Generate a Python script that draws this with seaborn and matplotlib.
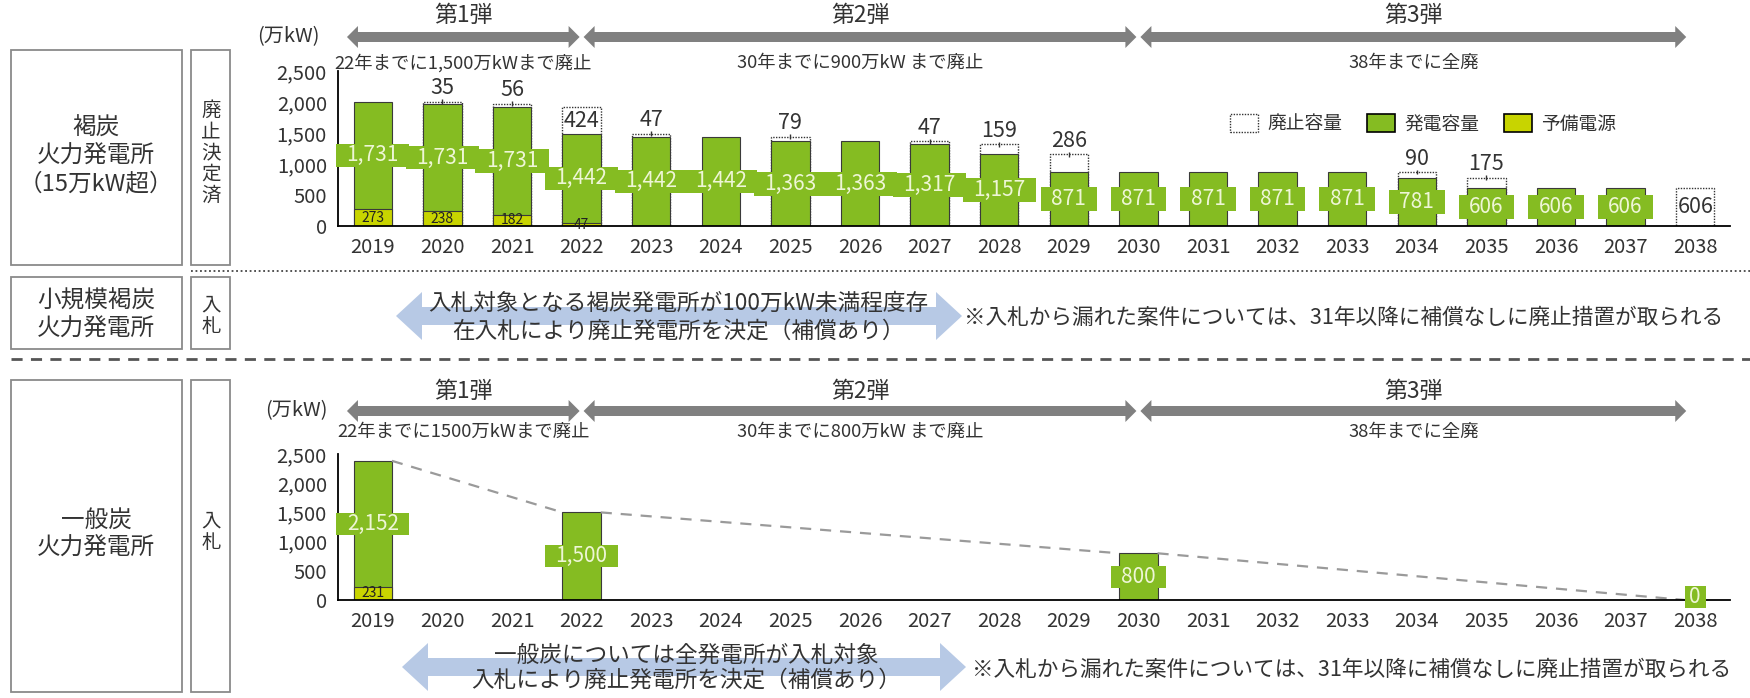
import numpy as np
import pandas as pd
import matplotlib
matplotlib.use("Agg")
import matplotlib.pyplot as plt
import seaborn as sns
from matplotlib.patches import Rectangle, Polygon, Patch
from matplotlib.lines import Line2D
from matplotlib.ticker import FuncFormatter, FixedLocator

# ---------------- data ----------------
years = [str(y) for y in range(2019, 2039)]

lignite_capacity = [1731, 1731, 1731, 1442, 1442, 1442, 1363, 1363, 1317, 1157,
                    871, 871, 871, 871, 871, 781, 606, 606, 606, 0]
lignite_reserve = [273, 238, 182, 47, 0, 0, 0, 0, 0, 0,
                   0, 0, 0, 0, 0, 0, 0, 0, 0, 0]
lignite_retired = [0, 35, 56, 424, 47, 0, 79, 0, 47, 159,
                   286, 0, 0, 0, 0, 90, 175, 0, 0, 606]

nan = np.nan
coal_capacity = [2152, nan, nan, 1500, nan, nan, nan, nan, nan, nan,
                 nan, 800, nan, nan, nan, nan, nan, nan, nan, 0]
coal_reserve = [231, nan, nan, 0, nan, nan, nan, nan, nan, nan,
                nan, 0, nan, nan, nan, nan, nan, nan, nan, 0]

phase_titles = ["第1弾", "第2弾", "第3弾"]
phase_years = [("2019", "2022"), ("2022", "2030"), ("2030", "2038")]
lignite_targets = ["22年までに1,500万kWまで廃止", "30年までに900万kW まで廃止", "38年までに全廃"]
coal_targets = ["22年までに1500万kWまで廃止", "30年までに800万kW まで廃止", "38年までに全廃"]
legend_labels = ["廃止容量", "発電容量", "予備電源"]
yticks = [0, 500, 1000, 1500, 2000, 2500]

# ---------------- style ----------------
W, H, DPI = 1750, 698, 100
GREEN = "#85BC22"
YELLOW = "#C8D400"
EDGE = "#3a3a3a"
LABEL_TXT = "#EEF6D6"
GRAY_ARROW = "#808080"
BLUE_ARROW = "#B7C9E5"
TXT = "#333333"

sns.set_style("white")
plt.rcParams["font.family"] = ["Noto Sans CJK JP", "DejaVu Sans"]

fig = plt.figure(figsize=(W / DPI, H / DPI), dpi=DPI)

ax_top = fig.add_axes([338 / W, 1 - 226 / H, 1392 / W, 155 / H])
ax_bot = fig.add_axes([338 / W, 1 - 600 / H, 1392 / W, 146 / H])


def T(x, y, s, **kw):
    kw.setdefault("ha", "center")
    kw.setdefault("va", "center")
    kw.setdefault("color", TXT)
    return fig.text(x / W, 1 - y / H, s, **kw)


def poly_px(verts, color, z=5):
    v = [(x / W, 1 - y / H) for x, y in verts]
    fig.add_artist(Polygon(v, closed=True, transform=fig.transFigure,
                           facecolor=color, edgecolor="none", zorder=z))


def double_arrow(x0, x1, y, body, head_h, head_l, color):
    verts = [(x0, y), (x0 + head_l, y - head_h / 2), (x0 + head_l, y - body / 2),
             (x1 - head_l, y - body / 2), (x1 - head_l, y - head_h / 2), (x1, y),
             (x1 - head_l, y + head_h / 2), (x1 - head_l, y + body / 2),
             (x0 + head_l, y + body / 2), (x0 + head_l, y + head_h / 2)]
    poly_px(verts, color)


def style_axis(ax):
    ax.set_ylim(0, 2500)
    ax.set_xlim(-0.5, len(years) - 0.5)
    ax.set_xlabel("")
    ax.set_ylabel("")
    for s in ["top", "right"]:
        ax.spines[s].set_visible(False)
    for s in ["left", "bottom"]:
        ax.spines[s].set_color("black")
        ax.spines[s].set_linewidth(1.3)
    ax.yaxis.set_major_locator(FixedLocator(yticks))
    ax.yaxis.set_major_formatter(FuncFormatter(lambda v, p: f"{int(v):,}"))
    ax.tick_params(axis="y", direction="out", length=5, width=1, colors="black",
                   labelcolor=TXT, labelsize=14.5, pad=3)
    ax.set_xticks(range(len(years)))
    ax.set_xticklabels(years)
    ax.tick_params(axis="x", which="major", length=0, labelsize=14.5, labelcolor=TXT, pad=8)
    ax.set_xticks(np.arange(-0.5, len(years)), minor=True)
    ax.tick_params(axis="x", which="minor", direction="out", length=6, width=1, colors="black")
    ax.patch.set_alpha(0)


BAR_W = 0.55
BOX_H = 380


def value_box(ax, i, yc, value):
    s = f"{int(value):,}"
    nd = sum(ch.isdigit() for ch in s)
    w = 0.25 * nd + 0.05
    ax.add_patch(Rectangle((i - w / 2, yc - BOX_H / 2), w, BOX_H, facecolor=GREEN,
                           edgecolor="none", zorder=4, clip_on=False))
    ax.text(i, yc, s, ha="center", va="center", color=LABEL_TXT, fontsize=15,
            zorder=5)


# ---------------- top panel: lignite ----------------
dft = pd.DataFrame({"year": years, "cap": lignite_capacity, "res": lignite_reserve,
                    "ret": lignite_retired})
dft["stack"] = dft["cap"] + dft["res"]
dft["outer"] = np.where(dft["ret"] > 0, dft["stack"] + dft["ret"], nan)
dft["stack_plot"] = np.where(dft["stack"] > 0, dft["stack"], nan)
dft["res_plot"] = np.where(dft["res"] > 0, dft["res"], nan)

sns.barplot(data=dft, x="year", y="outer", order=years, fill=False, color="#333333",
            linestyle=(0, (1, 1)), linewidth=1.0, width=BAR_W, errorbar=None, ax=ax_top)
sns.barplot(data=dft, x="year", y="stack_plot", order=years, color=GREEN, saturation=1,
            edgecolor=EDGE, linewidth=0.8, width=BAR_W, errorbar=None, ax=ax_top)
sns.barplot(data=dft, x="year", y="res_plot", order=years, color=YELLOW, saturation=1,
            edgecolor=EDGE, linewidth=0.8, width=BAR_W, errorbar=None, ax=ax_top)
style_axis(ax_top)

for i, r in dft.iterrows():
    if r["cap"] > 0:
        value_box(ax_top, i, r["res"] + r["cap"] / 2, r["cap"])
    if r["res"] > 0:
        ax_top.text(i, r["res"] / 2, f"{int(r['res'])}", ha="center", va="center",
                    fontsize=10, color="#222222", zorder=5)
    if r["ret"] > 0:
        top = r["stack"] + r["ret"]
        if r["cap"] == 0:
            ax_top.text(i, r["ret"] / 2, f"{int(r['ret'])}", ha="center", va="center",
                        fontsize=15.5, color=TXT, zorder=5)
        elif r["ret"] > 300:
            ax_top.text(i, r["stack"] + 20, f"{int(r['ret'])}", ha="center", va="bottom",
                        fontsize=15.5, color=TXT, zorder=5)
        else:
            ax_top.vlines(i, top - 40, top + 40, color="#333333", lw=1, zorder=5)
            ax_top.text(i, top + 40, f"{int(r['ret'])}", ha="center", va="bottom",
                        fontsize=15.5, color=TXT, zorder=5)

# ---------------- bottom panel: general coal ----------------
dfb = pd.DataFrame({"year": years, "cap": coal_capacity, "res": coal_reserve})
dfb["stack"] = dfb["cap"] + dfb["res"]
dfb["stack_plot"] = np.where(dfb["stack"] > 0, dfb["stack"], nan)
dfb["res_plot"] = np.where(dfb["res"] > 0, dfb["res"], nan)

sns.barplot(data=dfb, x="year", y="stack_plot", order=years, color=GREEN, saturation=1,
            edgecolor=EDGE, linewidth=0.8, width=BAR_W, errorbar=None, ax=ax_bot)
sns.barplot(data=dfb, x="year", y="res_plot", order=years, color=YELLOW, saturation=1,
            edgecolor=EDGE, linewidth=0.8, width=BAR_W, errorbar=None, ax=ax_bot)
style_axis(ax_bot)

present = dfb.dropna(subset=["cap"])
idx = list(present.index)
tops = list(present["stack"])
lx, ly = [], []
for a in range(len(idx) - 1):
    lx += [idx[a] + BAR_W / 2, idx[a + 1] - (BAR_W / 2 if tops[a + 1] > 0 else 0.15), nan]
    ly += [tops[a], tops[a + 1], nan]
ax_bot.plot(lx, ly, color="#9a9a9a", lw=1.6, dashes=(5, 4), zorder=2)

for i, r in present.iterrows():
    if r["cap"] > 0:
        value_box(ax_bot, i, r["res"] + r["cap"] / 2, r["cap"])
    else:
        value_box(ax_bot, i, BOX_H * 0.12, r["cap"])
    if r["res"] > 0:
        ax_bot.text(i, r["res"] / 2, f"{int(r['res'])}", ha="center", va="center",
                    fontsize=10, color="#222222", zorder=5)

# ---------------- phase arrows & titles ----------------
fig.canvas.draw()


def data_x_px(ax, x):
    return ax.transData.transform((x, 0))[0]


def phases(ax, y_title, y_arrow, y_sub, targets):
    n = len(phase_years)
    for k, ((a, b), title, sub) in enumerate(zip(phase_years, phase_titles, targets)):
        x0 = years.index(a) - (0.4 if k == 0 else 0)
        x1 = years.index(b) - (0.1 if k == n - 1 else 0)
        p0, p1 = data_x_px(ax, x0) + 2, data_x_px(ax, x1) - 2
        double_arrow(p0, p1, y_arrow, 10, 22, 11, GRAY_ARROW)
        xc = (p0 + p1) / 2
        T(xc, y_title, title, fontsize=16.5)
        T(xc, y_sub, sub, fontsize=13.2)


phases(ax_top, 16, 37, 63, lignite_targets)
phases(ax_bot, 391, 411, 432, coal_targets)

T(288, 37, "(万kW)", fontsize=14.5)
T(296, 411, "(万kW)", fontsize=14.5)

# legend
handles = [Patch(facecolor="none", edgecolor="#333333", linestyle=(0, (1, 1)), linewidth=1),
           Patch(facecolor=GREEN, edgecolor="black", linewidth=1.2),
           Patch(facecolor=YELLOW, edgecolor="black", linewidth=1.2)]
fig.legend(handles, legend_labels, loc="center", bbox_to_anchor=(1423 / W, 1 - 124 / H),
           ncol=3, frameon=False, fontsize=13.5, handlelength=1.5, handleheight=1.1,
           columnspacing=1.3, handletextpad=0.5, labelcolor=TXT)

# ---------------- left boxes ----------------
def box(x0, y0, x1, y1):
    fig.add_artist(Rectangle((x0 / W, 1 - y1 / H), (x1 - x0) / W, (y1 - y0) / H,
                             transform=fig.transFigure, fill=False,
                             edgecolor="#8a8a8a", linewidth=1.3))


box(11, 50, 182, 265)
box(191, 50, 230, 265)
box(11, 277, 182, 349)
box(191, 277, 230, 349)
box(11, 380, 182, 692)
box(191, 380, 230, 692)

T(96, 156, "褐炭\n火力発電所\n（15万kW超）", fontsize=17, linespacing=1.25)
T(211, 153, "\n".join("廃止決定済"), fontsize=14, linespacing=1.02)
T(96, 315, "小規模褐炭\n火力発電所", fontsize=17, linespacing=1.25)
T(211, 316, "\n".join("入札"), fontsize=14, linespacing=1.02)
T(96, 534, "一般炭\n火力発電所", fontsize=17, linespacing=1.25)
T(211, 532, "\n".join("入札"), fontsize=14, linespacing=1.02)

# separators
fig.add_artist(Line2D([191 / W, 1], [1 - 271 / H] * 2, transform=fig.transFigure,
                      color="#444444", lw=1.3, linestyle=(0, (1, 1.5))))
fig.add_artist(Line2D([11 / W, 1], [1 - 359 / H] * 2, transform=fig.transFigure,
                      color="#555555", lw=2, linestyle=(0, (4, 3))))

# ---------------- middle / bottom notes ----------------
NOTE = "※入札から漏れた案件については、31年以降に補償なしに廃止措置が取られる"
double_arrow(396, 962, 316, 18, 48, 26, BLUE_ARROW)
T(678, 303, "入札対象となる褐炭発電所が100万kW未満程度存", fontsize=16.3, zorder=6)
T(678, 331, "在入札により廃止発電所を決定（補償あり）", fontsize=16.3, zorder=6)
T(964, 318, NOTE, fontsize=15.6, ha="left")

double_arrow(402, 966, 667, 18, 48, 26, BLUE_ARROW)
T(686, 655, "一般炭については全発電所が入札対象", fontsize=16.3, zorder=6)
T(686, 680, "入札により廃止発電所を決定（補償あり）", fontsize=16.3, zorder=6)
T(972, 670, NOTE, fontsize=15.6, ha="left")

fig.savefig("out.png", dpi=DPI)
